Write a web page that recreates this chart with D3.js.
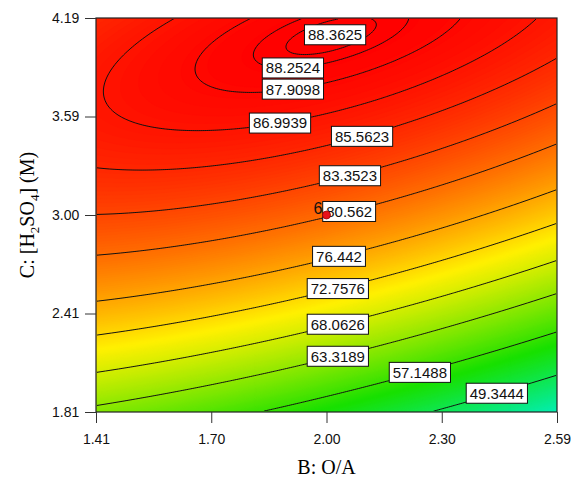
<!DOCTYPE html>
<html>
<head>
<meta charset="utf-8">
<script src="https://cdn.jsdelivr.net/npm/d3@7"></script>
<style>
  body { margin: 0; background: #fff; }
  svg { display: block; }
</style>
</head>
<body>
<svg id="chart" width="577" height="478"></svg>
<script>
// 坐标轴刻度 (标签取两位小数)
const xTickVals = [1.41, 1.705, 2.00, 2.295, 2.59]
const xTickLabels = ['1.41', '1.70', '2.00', '2.30', '2.59']
const yTickVals = [1.81, 2.405, 3.00, 3.595, 4.19]
const yTickLabels = ['1.81', '2.41', '3.00', '3.59', '4.19']

// 二次响应面模型 (编码值: u = (B-2.00)/0.59, v = (C-3.00)/1.19)
// 项: 常数, B, C, BC, B², C²  —— 按图中等值线估出
const terms = ['1', 'B', 'C', 'BC', 'B2', 'C2']
const coefs = [80.746, -4.805, 16.970, 5.379, -2.230, -9.384]

// 等值线数值
const levels = [49.3444, 57.1488, 63.3189, 68.0626, 72.7576, 76.442, 80.562, 83.3523, 85.5623, 86.9939, 87.9098, 88.2524, 88.3625]
// 标签所在的 O/A 值, 以及取等值线的哪一支
const labelAt = [2.436, 2.239, 2.029, 2.029, 2.029, 2.032, 2.058, 2.060, 2.091, 1.881, 1.914, 1.914, 2.022]
const labelBranch = ['low', 'low', 'low', 'low', 'low', 'low', 'low', 'low', 'low', 'low', 'low', 'low', 'mid']

// 中心点 (6 次重复)
const centerPt = { b: 2.00, c: 3.00, n: 6 }

const toU = (b) => (b - 2.0) / 0.59
const toV = (c) => (c - 3.0) / 1.19
const model = (u, v) => coefs[0] + coefs[1] * u + coefs[2] * v + coefs[3] * u * v + coefs[4] * u * u + coefs[5] * v * v

const svg = d3.select('#chart')
const box = { x: 96, y: 18, w: 461, h: 394 }

const x = d3.scaleLinear().domain([1.41, 2.59]).range([box.x, box.x + box.w])
const y = d3.scaleLinear().domain([1.81, 4.19]).range([box.y + box.h, box.y])

// 颜色: 蓝-青-绿-黄-红
const color = d3.scaleLinear()
  .domain([25, 40, 55, 71, 88.4])
  .range(['#0000ff', '#00f0d0', '#18e000', '#fff000', '#ff0000'])
  .clamp(true)

// 网格取值
const nx = 231, ny = 197
const values = new Float64Array(nx * ny)
for (let j = 0; j < ny; j++) {
  for (let i = 0; i < nx; i++) {
    const b = x.invert(box.x + (i + 0.5) / nx * box.w)
    const c = y.invert(box.y + (j + 0.5) / ny * box.h)
    values[j * nx + i] = model(toU(b), toV(c))
  }
}

const path = d3.geoPath(d3.geoTransform({
  point: function (px, py) {
    this.stream.point(box.x + px * box.w / nx, box.y + py * box.h / ny)
  }
}))

svg.append('clipPath').attr('id', 'plotClip')
  .append('rect').attr('x', box.x).attr('y', box.y).attr('width', box.w).attr('height', box.h)
svg.append('clipPath').attr('id', 'lineClip')
  .append('rect').attr('x', box.x + 1).attr('y', box.y + 1).attr('width', box.w - 2).attr('height', box.h - 2)

// 填充色带
const fillG = svg.append('g').attr('clip-path', 'url(#plotClip)')
const vmin = d3.min(values)
fillG.append('rect')
  .attr('x', box.x).attr('y', box.y).attr('width', box.w).attr('height', box.h)
  .attr('fill', color(vmin))
const bands = d3.contours().size([nx, ny]).thresholds(d3.range(Math.floor(vmin), 89, 0.2))(values)
fillG.selectAll('path')
  .data(bands)
  .join('path')
  .attr('d', path)
  .attr('fill', (d) => color(d.value + 0.1))
  .attr('stroke', (d) => color(d.value + 0.1))
  .attr('stroke-width', 0.6)

// 等值线
const lines = d3.contours().size([nx, ny]).thresholds(levels)(values)
svg.append('g').attr('clip-path', 'url(#lineClip)')
  .selectAll('path')
  .data(lines)
  .join('path')
  .attr('d', path)
  .attr('fill', 'none')
  .attr('stroke', '#111')
  .attr('stroke-width', 1)

// 边框
svg.append('rect')
  .attr('x', box.x).attr('y', box.y).attr('width', box.w).attr('height', box.h)
  .attr('fill', 'none').attr('stroke', '#222').attr('stroke-width', 1.2)

// 坐标轴
const xAxis = d3.axisBottom(x).tickValues(xTickVals).tickFormat((d, i) => xTickLabels[i]).tickSize(11).tickSizeOuter(0)
const yAxis = d3.axisLeft(y).tickValues(yTickVals).tickFormat((d, i) => yTickLabels[i]).tickSize(11).tickSizeOuter(0)
const gx = svg.append('g').attr('transform', `translate(0, ${box.y + box.h})`).call(xAxis)
const gy = svg.append('g').attr('transform', `translate(${box.x}, 0)`).call(yAxis)
;[gx, gy].forEach((g) => {
  g.select('.domain').remove()
  g.selectAll('line').attr('stroke', '#333')
  g.selectAll('text').attr('font-family', 'Liberation Sans, Arial, sans-serif').attr('font-size', 14).attr('fill', '#111')
})
gx.selectAll('text').attr('dy', '1.3em')
gy.selectAll('text').attr('dx', '-0.2em')

// 轴标题
svg.append('text')
  .attr('x', x(2.0)).attr('y', 474)
  .attr('text-anchor', 'middle')
  .attr('font-family', 'Liberation Serif, Times New Roman, serif')
  .attr('font-size', 20)
  .text('B: O/A')
const yTitle = svg.append('text')
  .attr('transform', `translate(34, ${y(3.0)}) rotate(-90)`)
  .attr('text-anchor', 'middle')
  .attr('font-family', 'Liberation Serif, Times New Roman, serif')
  .attr('font-size', 20)
yTitle.append('tspan').text('C: [H')
yTitle.append('tspan').attr('font-size', 13).attr('dy', 5).text('2')
yTitle.append('tspan').attr('dy', -5).text('SO')
yTitle.append('tspan').attr('font-size', 13).attr('dy', 5).text('4')
yTitle.append('tspan').attr('dy', -5).text('] (M)')

// 在给定 B 处求等值线上的 C (编码值)
function solveV(u, level, branch) {
  const a = coefs[5]
  const b = coefs[2] + coefs[3] * u
  const c = coefs[0] + coefs[1] * u + coefs[4] * u * u - level
  const disc = b * b - 4 * a * c
  if (disc < 0 || branch === 'mid') return -b / (2 * a)
  const r1 = (-b + Math.sqrt(disc)) / (2 * a)
  const r2 = (-b - Math.sqrt(disc)) / (2 * a)
  return Math.min(r1, r2)
}

// 等值线标签
const labelG = svg.append('g')
levels.forEach((lv, i) => {
  const b = labelAt[i]
  const v = solveV(toU(b), lv, labelBranch[i])
  const px = x(b), py = y(3.0 + v * 1.19)
  const g = labelG.append('g').attr('transform', `translate(${px}, ${py})`)
  const rect = g.append('rect').attr('fill', '#fff').attr('stroke', '#111').attr('stroke-width', 1)
  const t = g.append('text')
    .attr('text-anchor', 'middle').attr('dy', '0.36em')
    .attr('font-family', 'Liberation Sans, Arial, sans-serif').attr('font-size', 15)
    .attr('fill', '#111')
    .text(String(lv))
  const w = t.node().getComputedTextLength() + 7
  rect.attr('x', -w / 2).attr('y', -10).attr('width', w).attr('height', 20)
})

// 中心点
svg.append('circle')
  .attr('cx', x(centerPt.b)).attr('cy', y(centerPt.c)).attr('r', 4)
  .attr('fill', '#e8101a').attr('stroke', '#900').attr('stroke-width', 0.8)
svg.append('text')
  .attr('x', x(centerPt.b) - 4).attr('y', y(centerPt.c) - 1)
  .attr('text-anchor', 'end')
  .attr('font-family', 'Liberation Sans, Arial, sans-serif').attr('font-size', 16)
  .attr('fill', '#111')
  .text(centerPt.n)
</script>
</body>
</html>
